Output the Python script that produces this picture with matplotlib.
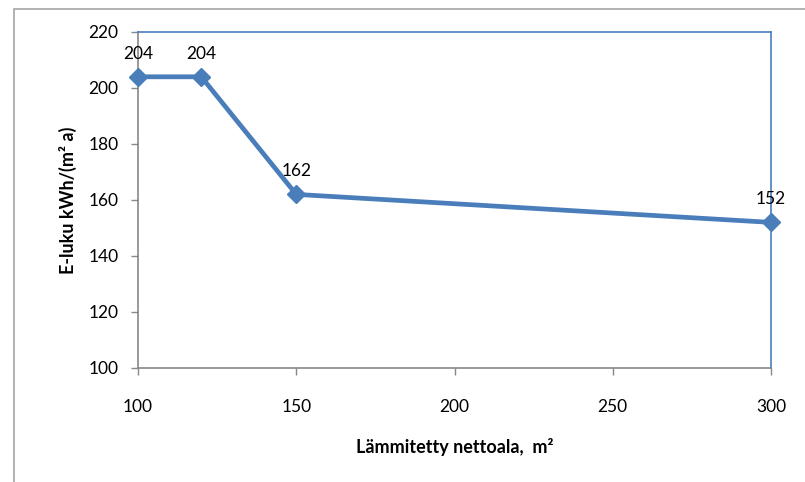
import matplotlib.pyplot as plt
from matplotlib.patches import Rectangle

# pinta-ala (m2) ja E-luku
ala = [100, 120, 150, 300]
e_luku = [204, 204, 162, 152]
xticks = [100, 150, 200, 250, 300]
yticks = [100, 120, 140, 160, 180, 200, 220]

plt.rcParams['font.family'] = ['Lato', 'DejaVu Sans']

fig = plt.figure(figsize=(8.05, 4.82), dpi=100)
ax = fig.add_axes([138 / 805, 1 - 368 / 482, (771 - 138) / 805, (368 - 32) / 482])

# reunus kuvan ympärillä
fig.patches.append(Rectangle((14 / 805, -0.01), 1.0, 1 - 9 / 482 + 0.01,
                             transform=fig.transFigure, fill=False,
                             edgecolor='#a6a6a6', linewidth=1.2))

blue = '#4a7ebb'
ax.plot(ala, e_luku, color=blue, linewidth=3.4, marker='D', markersize=9.5,
        clip_on=False, zorder=3)
for x, y in zip(ala, e_luku):
    ax.annotate(str(y), (x, y), xytext=(0, 11), textcoords='offset points',
                ha='center', va='bottom', fontsize=12.5)

ax.set_xlim(100, 300)
ax.set_ylim(100, 220)
ax.set_xticks(xticks)
ax.set_yticks(yticks)
ax.tick_params(axis='both', labelsize=12.5, color='#888888', length=5, width=1)
ax.tick_params(axis='x', pad=17)
ax.tick_params(axis='y', pad=9)

ax.spines['left'].set_color('#888888')
ax.spines['bottom'].set_color('#888888')
ax.spines['top'].set_color(blue)
ax.spines['right'].set_color(blue)
for s in ax.spines.values():
    s.set_linewidth(1.2)

ax.set_xlabel('Lämmitetty nettoala,  m²', fontsize=13, fontweight='bold', labelpad=17)
ax.set_ylabel('E-luku kWh/(m² a)', fontsize=13, fontweight='bold', labelpad=8)

fig.savefig('out.png', dpi=100)
